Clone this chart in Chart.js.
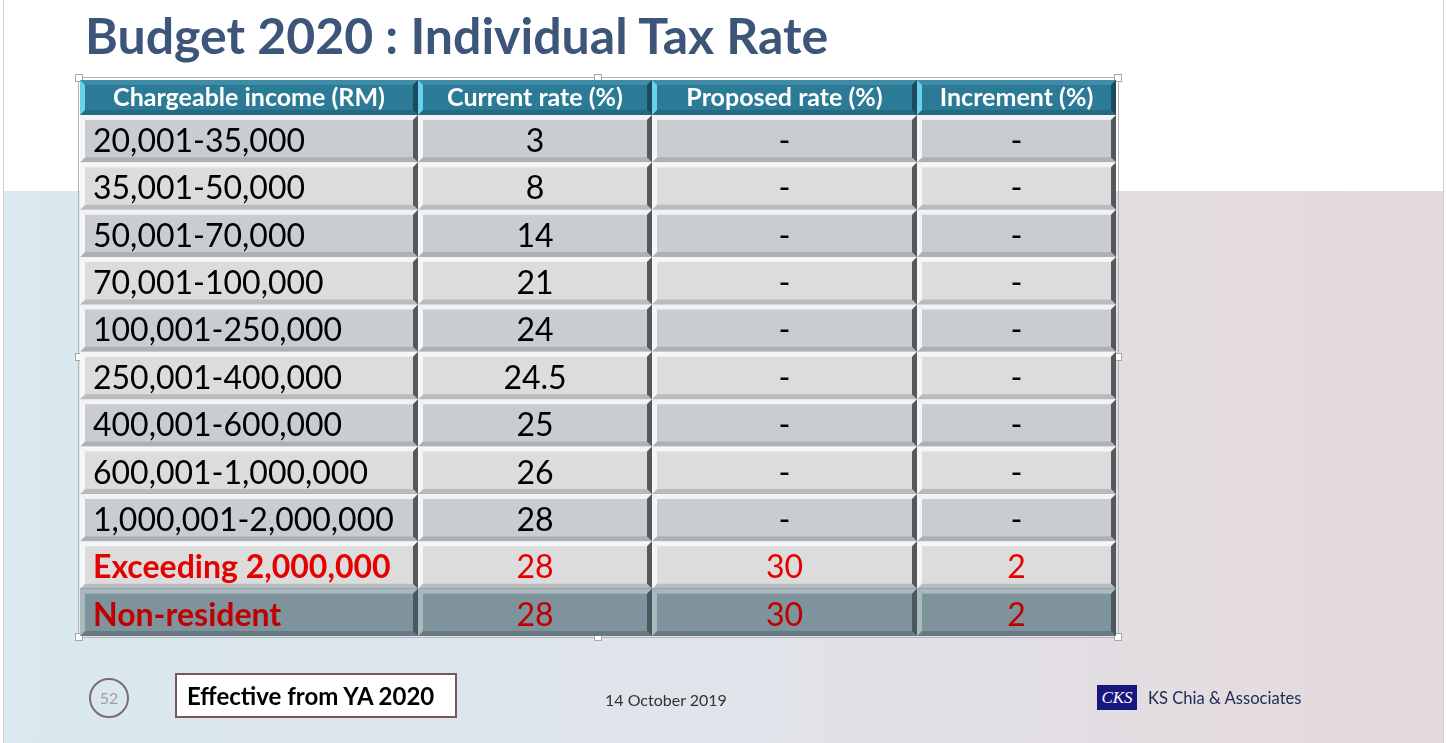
<!DOCTYPE html>
<html>
<head>
<meta charset="utf-8">
<script src="https://cdn.jsdelivr.net/npm/chart.js@4.4.1/dist/chart.umd.min.js"></script>
<style>
  html, body { margin: 0; padding: 0; }
  body { width: 1446px; height: 743px; position: relative; overflow: hidden; background: #fff; font-family: Lato, "Open Sans", sans-serif; }
  .edge { position: absolute; top: 0; width: 1px; height: 743px; background: #cfcfcf; }
  .band { position: absolute; left: 4px; top: 191px; width: 1439px; height: 552px;
          background: linear-gradient(to right, #d9e9ef 0%, #e0e4ea 50%, #e5d8dc 100%); }
  h1 { position: absolute; left: 85px; top: 5px; margin: 0; font-size: 50px; font-weight: 700; color: #3c5579; white-space: nowrap; }
  .frame { position: absolute; left: 78px; top: 77px; width: 1039px; height: 559px; border: 1px solid #b4b4b4; }
  .handle { position: absolute; width: 6px; height: 6px; background: #fff; border: 1px solid #a8a8a8; }
  canvas { position: absolute; left: 0; top: 0; }
  .page { position: absolute; left: 89px; top: 678px; width: 36px; height: 36px; border: 2px solid #7d6a78; border-radius: 50%;
          color: #a898a6; font-size: 16px; text-align: center; line-height: 36px; }
  .effective { position: absolute; left: 175px; top: 673px; width: 278px; height: 41px; border: 2px solid #7a5566; background: #fff;
               font-size: 24px; font-weight: 700; color: #000; line-height: 41px; text-indent: 10px; white-space: nowrap; }
  .date { position: absolute; left: 605px; top: 690px; font-size: 16px; color: #333; white-space: nowrap; }
  .logo { position: absolute; left: 1097px; top: 685px; width: 40px; height: 25px; background: #17177e; color: #fff;
          font-family: "Liberation Serif", serif; font-style: italic; font-size: 17px; text-align: center; line-height: 25px; }
  .firm { position: absolute; left: 1148px; top: 688px; font-size: 16.6px; color: #1c2a52; white-space: nowrap; }
</style>
</head>
<body>
<div class="edge" style="left:3px"></div>
<div class="edge" style="left:1443px"></div>
<div class="band"></div>
<h1>Budget 2020 : Individual Tax Rate</h1>
<div class="frame"></div>
<div class="handle" style="left:75px;top:74px"></div>
<div class="handle" style="left:594px;top:74px"></div>
<div class="handle" style="left:1114px;top:74px"></div>
<div class="handle" style="left:75px;top:353px"></div>
<div class="handle" style="left:1114px;top:353px"></div>
<div class="handle" style="left:75px;top:633px"></div>
<div class="handle" style="left:594px;top:633px"></div>
<div class="handle" style="left:1114px;top:633px"></div>
<canvas id="taxTable" width="1446" height="743"></canvas>
<div class="page">52</div>
<div class="effective">Effective from YA 2020</div>
<div class="date">14 October 2019</div>
<div class="logo">CKS</div>
<div class="firm">KS Chia &amp; Associates</div>

<script>
// table content
const columnHeaders = ["Chargeable income (RM)", "Current rate (%)", "Proposed rate (%)", "Increment (%)"];
const incomeBands = ["20,001-35,000", "35,001-50,000", "50,001-70,000", "70,001-100,000", "100,001-250,000",
  "250,001-400,000", "400,001-600,000", "600,001-1,000,000", "1,000,001-2,000,000", "Exceeding 2,000,000", "Non-resident"];
const currentRate = ["3", "8", "14", "21", "24", "24.5", "25", "26", "28", "28", "28"];
const proposedRate = ["-", "-", "-", "-", "-", "-", "-", "-", "-", "30", "30"];
const increment = ["-", "-", "-", "-", "-", "-", "-", "-", "-", "2", "2"];

// layout only: column widths in px
const colWidths = [338, 234, 265, 199];
const colEdges = colWidths.reduce((a, w) => a.concat(a[a.length - 1] + w), [0]);
const colCenters = colWidths.map((w, i) => colEdges[i] + w / 2);
const columns = [incomeBands, currentRate, proposedRate, increment];

const FONT = "Lato";
const HEADER_H = 35;
const BEVEL = 5;

function rowFill(i) {
  if (i === incomeBands.length - 1) return "#7e939b";
  return i % 2 === 0 ? "#c9cdd1" : "#dcdcdc";
}
function textColor(i) {
  if (i === incomeBands.length - 1) return "#c00000";
  if (i === incomeBands.length - 2) return "#e60000";
  return "#000";
}

function bevel(ctx, L, R, T, B, c) {
  const b = BEVEL;
  const poly = (pts, col) => {
    ctx.beginPath();
    ctx.moveTo(pts[0][0], pts[0][1]);
    for (let k = 1; k < pts.length; k++) ctx.lineTo(pts[k][0], pts[k][1]);
    ctx.closePath();
    ctx.fillStyle = col;
    ctx.fill();
  };
  poly([[L, T], [R, T], [R - b, T + b], [L + b, T + b]], c.top);
  poly([[L, B], [R, B], [R - b, B - b], [L + b, B - b]], c.bottom);
  poly([[L, T], [L + b, T + b], [L + b, B - b], [L, B]], c.left);
  poly([[R, T], [R, B], [R - b, B - b], [R - b, T + b]], c.right);
}

const cellPlugin = {
  id: "cells",
  afterDatasetsDraw(chart) {
    const ctx = chart.ctx;
    const x = chart.scales.x;
    const area = chart.chartArea;
    ctx.save();
    // header row along the x scale
    for (let c = 0; c < columnHeaders.length; c++) {
      const L = x.getPixelForValue(colEdges[c]);
      const R = x.getPixelForValue(colEdges[c + 1]);
      const T = area.top - HEADER_H, B = area.top;
      ctx.fillStyle = "#2c7b96";
      ctx.fillRect(L, T, R - L, B - T);
      bevel(ctx, L, R, T, B, { top: "#3f8ca6", bottom: "#246a82", left: "#66d3ea", right: "#1b4b5c" });
    }
    // body cells from the bar elements
    chart.data.datasets.forEach((ds, c) => {
      const meta = chart.getDatasetMeta(c);
      meta.data.forEach((bar, i) => {
        const p = bar.getProps(["x", "y", "base", "height"], true);
        const L = Math.min(p.base, p.x), R = Math.max(p.base, p.x);
        const T = p.y - p.height / 2, B = p.y + p.height / 2;
        const last = i === incomeBands.length - 1;
        bevel(ctx, L, R, T, B, last
          ? { top: "rgba(200,215,220,0.55)", bottom: "rgba(60,75,82,0.35)", left: "#a9babf", right: "#4a585e" }
          : { top: "rgba(255,255,255,0.75)", bottom: "rgba(120,125,130,0.35)", left: "#f6f6f6", right: "#55595d" });
        if (c > 0) {
          ctx.font = "32px " + FONT;
          ctx.fillStyle = textColor(i);
          ctx.textAlign = "center";
          ctx.textBaseline = "middle";
          ctx.fillText(ds.values[i], (L + R) / 2, p.y + 3);
        }
      });
    });
    ctx.restore();
  }
};

new Chart(document.getElementById("taxTable"), {
  type: "bar",
  data: {
    labels: incomeBands,
    datasets: columns.map((col, c) => ({
      label: columnHeaders[c],
      values: col,
      data: incomeBands.map(() => [colEdges[c], colEdges[c + 1]]),
      backgroundColor: (ctx) => rowFill(ctx.dataIndex),
      borderWidth: 0,
      grouped: false,
      barPercentage: 1,
      categoryPercentage: 1
    }))
  },
  options: {
    indexAxis: "y",
    responsive: false,
    animation: false,
    events: [],
    layout: { padding: { left: 80, top: 80, right: 1446 - 80 - colEdges[4], bottom: 107 } },
    plugins: { legend: { display: false }, tooltip: { enabled: false } },
    scales: {
      x: {
        type: "linear",
        position: "top",
        min: 0,
        max: colEdges[4],
        grid: { display: false, drawTicks: false },
        border: { display: false },
        afterBuildTicks: (s) => { s.ticks = colCenters.map((v) => ({ value: v })); },
        afterFit: (s) => { s.height = HEADER_H; },
        ticks: {
          z: 1,
          autoSkip: false,
          maxRotation: 0,
          padding: 2,
          color: "#ffffff",
          font: { family: FONT, size: 25, weight: "bold" },
          callback: (v, i) => columnHeaders[i]
        }
      },
      y: {
        type: "category",
        grid: { display: false, drawTicks: false },
        border: { display: false },
        afterFit: (s) => { s.width = 0; },
        ticks: {
          z: 1,
          mirror: true,
          padding: 13,
          labelOffset: 3,
          autoSkip: false,
          color: (ctx) => textColor(ctx.index),
          font: (ctx) => ({ family: FONT, size: 32, weight: ctx.index >= incomeBands.length - 2 ? "bold" : "normal" })
        }
      }
    }
  },
  plugins: [cellPlugin]
});
</script>
</body>
</html>
